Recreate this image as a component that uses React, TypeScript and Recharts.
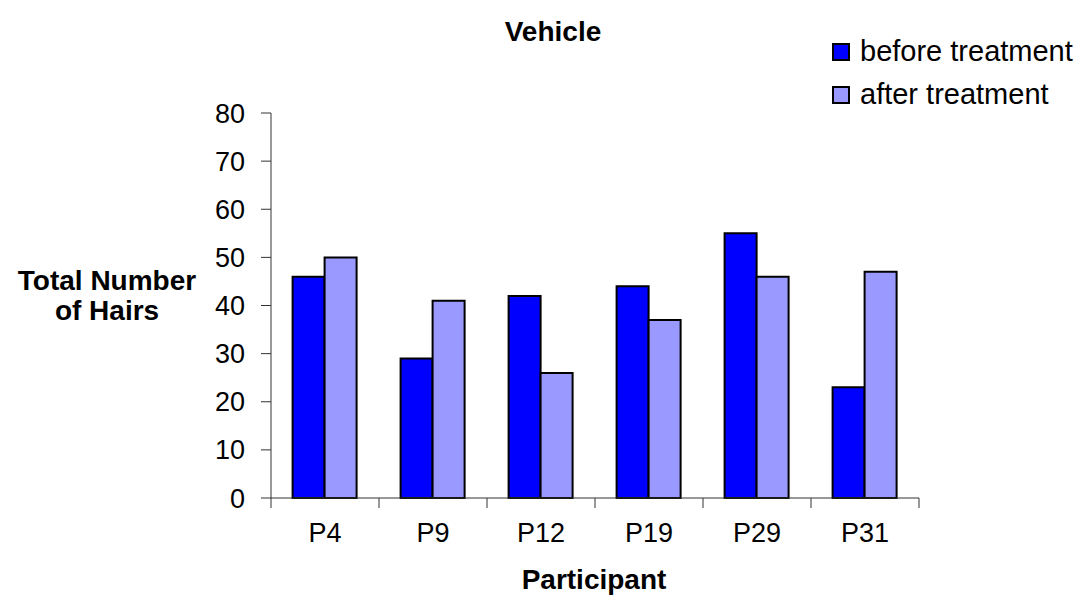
import React from 'react';
import { BarChart, Bar, XAxis, YAxis } from 'recharts';

const participants = ['P4', 'P9', 'P12', 'P19', 'P29', 'P31'];
const beforeTreatment = [46, 29, 42, 44, 55, 23];
const afterTreatment = [50, 41, 26, 37, 46, 47];
const yTicks = [0, 10, 20, 30, 40, 50, 60, 70, 80];
const legendItems = [
  { label: 'before treatment', color: '#0000ff' },
  { label: 'after treatment', color: '#9999ff' },
];

const W = 1079;
const H = 599;
const X_AXIS_H = 30;
const MARGIN = { top: 105, right: 168, bottom: 109 - X_AXIS_H, left: 0 };
const Y_AXIS_W = 263;
const PLOT_W = W - MARGIN.right - MARGIN.left - Y_AXIS_W;
const BAND = PLOT_W / participants.length;
const FONT = 'Liberation Sans, Arial, sans-serif';
const AXIS = '#333';
const TXT = 27;

const data = participants.map((p, i) => ({
  name: p,
  before: beforeTreatment[i],
  after: afterTreatment[i],
}));

// tick label in the middle of the category, tick marks on the category borders (excel style)
const XTick = (props: any) => {
  const { x, y, payload, index } = props;
  const axisY = y - 25;
  const last = index === participants.length - 1;
  return (
    <g>
      <line x1={x - BAND / 2} y1={axisY} x2={x - BAND / 2} y2={axisY + 10} stroke={AXIS} />
      {last && <line x1={x + BAND / 2} y1={axisY} x2={x + BAND / 2} y2={axisY + 10} stroke={AXIS} />}
      <text x={x} y={y} dy="0.71em" textAnchor="middle" fill="#000" fontSize={TXT} fontFamily={FONT}>
        {payload.value}
      </text>
    </g>
  );
};

export default function App() {
  return (
    <div style={{ position: 'relative', width: W, height: H, fontFamily: FONT, color: '#000' }}>
      <div style={{ position: 'absolute', left: 0, width: 1090, top: 8, textAlign: 'center', fontWeight: 'bold', fontSize: 28 }}>
        Vehicle
      </div>
      <div style={{ position: 'absolute', left: 0, width: 198, top: 258, textAlign: 'center', fontWeight: 'bold', fontSize: 28, lineHeight: '30px' }}>
        Total Number<br />of Hairs
      </div>
      <div style={{ position: 'absolute', left: 0, width: 1172, top: 556, textAlign: 'center', fontWeight: 'bold', fontSize: 28 }}>
        Participant
      </div>
      <div style={{ position: 'absolute', left: 824, top: 22, fontSize: 29, lineHeight: '43px' }}>
        {legendItems.map(item => (
          <div key={item.label} style={{ display: 'flex', alignItems: 'center', whiteSpace: 'nowrap' }}>
            <span style={{ display: 'inline-block', width: 14, height: 14, background: item.color, border: '2px solid #000', marginRight: 10 }} />
            {item.label}
          </div>
        ))}
      </div>
      <BarChart width={W} height={H} data={data} margin={MARGIN} barCategoryGap="20%" barGap={0}>
        <XAxis
          dataKey="name"
          height={X_AXIS_H}
          tickLine={false}
          tickSize={10}
          tickMargin={15}
          tick={<XTick />}
          axisLine={{ stroke: AXIS }}
          interval={0}
        />
        <YAxis
          width={Y_AXIS_W}
          domain={[0, 80]}
          ticks={yTicks}
          tickSize={10}
          tickMargin={16}
          axisLine={{ stroke: AXIS }}
          tickLine={{ stroke: AXIS }}
          tick={{ fill: '#000', fontSize: TXT, fontFamily: FONT }}
        />
        <Bar dataKey="before" name="before treatment" fill="#0000ff" stroke="#000" strokeWidth={2} isAnimationActive={false} />
        <Bar dataKey="after" name="after treatment" fill="#9999ff" stroke="#000" strokeWidth={2} isAnimationActive={false} />
      </BarChart>
    </div>
  );
}
